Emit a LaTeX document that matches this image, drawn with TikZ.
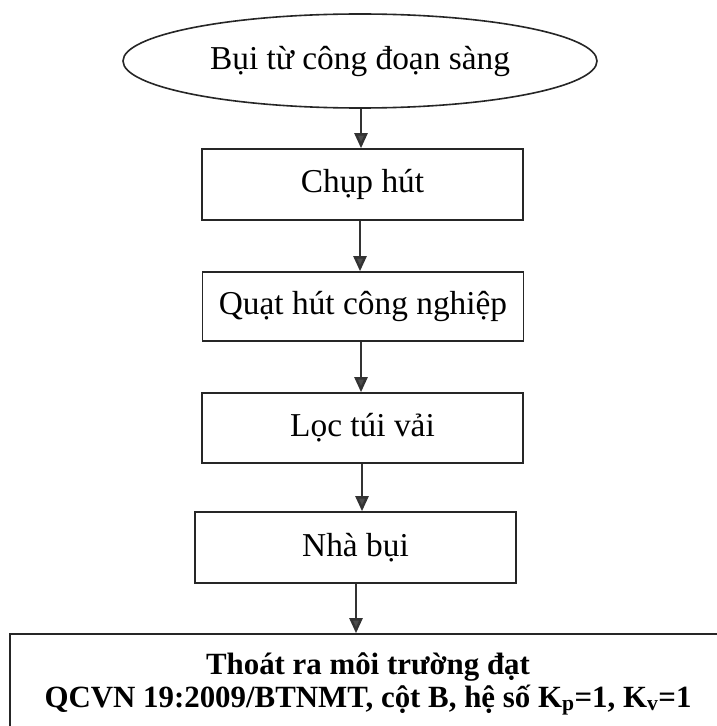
\documentclass[tikz,border=0pt]{standalone}
\usepackage{fontspec}
\setmainfont{Liberation Serif}
\usetikzlibrary{arrows.meta,shapes.geometric}
\begin{document}
\begin{tikzpicture}[x=1bp,y=-1bp,
  stepbox/.style={draw=black!85, line width=1.6bp, rectangle, inner sep=0pt,
    minimum width=321bp, minimum height=71bp, font=\fontsize{33.5}{38}\selectfont},
  flow/.style={draw=black!80, line width=2.4bp,
    -{Triangle[length=15bp,width=13bp,fill=black!70]}}]
  \useasboundingbox (0,0) rectangle (717,726);
  \fill[white] (0,0) rectangle (717,726);
  % source of the dust
  \node (src) [ellipse, draw=black!85, line width=1.6bp, inner sep=0pt,
    minimum width=474bp, minimum height=94bp,
    font=\fontsize{33.5}{38}\selectfont] at (360,61) {Bụi từ công đoạn sàng};
  % treatment chain
  \node (hood)   [stepbox] at (362.5,184.5) {Chụp hút};
  \node (fan)    [stepbox, minimum height=69bp] at (363,306.5) {Quạt hút công nghiệp};
  \node (filter) [stepbox, minimum height=70bp] at (362.5,428) {Lọc túi vải};
  \node (house)  [stepbox] at (355.5,547.5) {Nhà bụi};
  % discharge standard
  \node (out) [draw=black!85, line width=1.6bp, rectangle, inner sep=0pt,
    minimum width=716bp, minimum height=100bp, align=center,
    font=\bfseries\fontsize{31}{33}\selectfont] at (368,684)
    {Thoát ra môi trường đạt\\QCVN 19:2009/BTNMT, cột B, hệ số K\textsubscript{p}=1, K\textsubscript{v}=1};
  % connectors
  \draw[flow] (src.south -| 361,0) -- (hood.north -| 361,0);
  \draw[flow] (hood.south -| 360,0) -- (fan.north -| 360,0);
  \draw[flow] (fan.south -| 361,0) -- (filter.north -| 361,0);
  \draw[flow] (filter.south -| 362,0) -- (house.north -| 362,0);
  \draw[flow] (house.south -| 356,0) -- (out.north -| 356,0);
\end{tikzpicture}
\end{document}
